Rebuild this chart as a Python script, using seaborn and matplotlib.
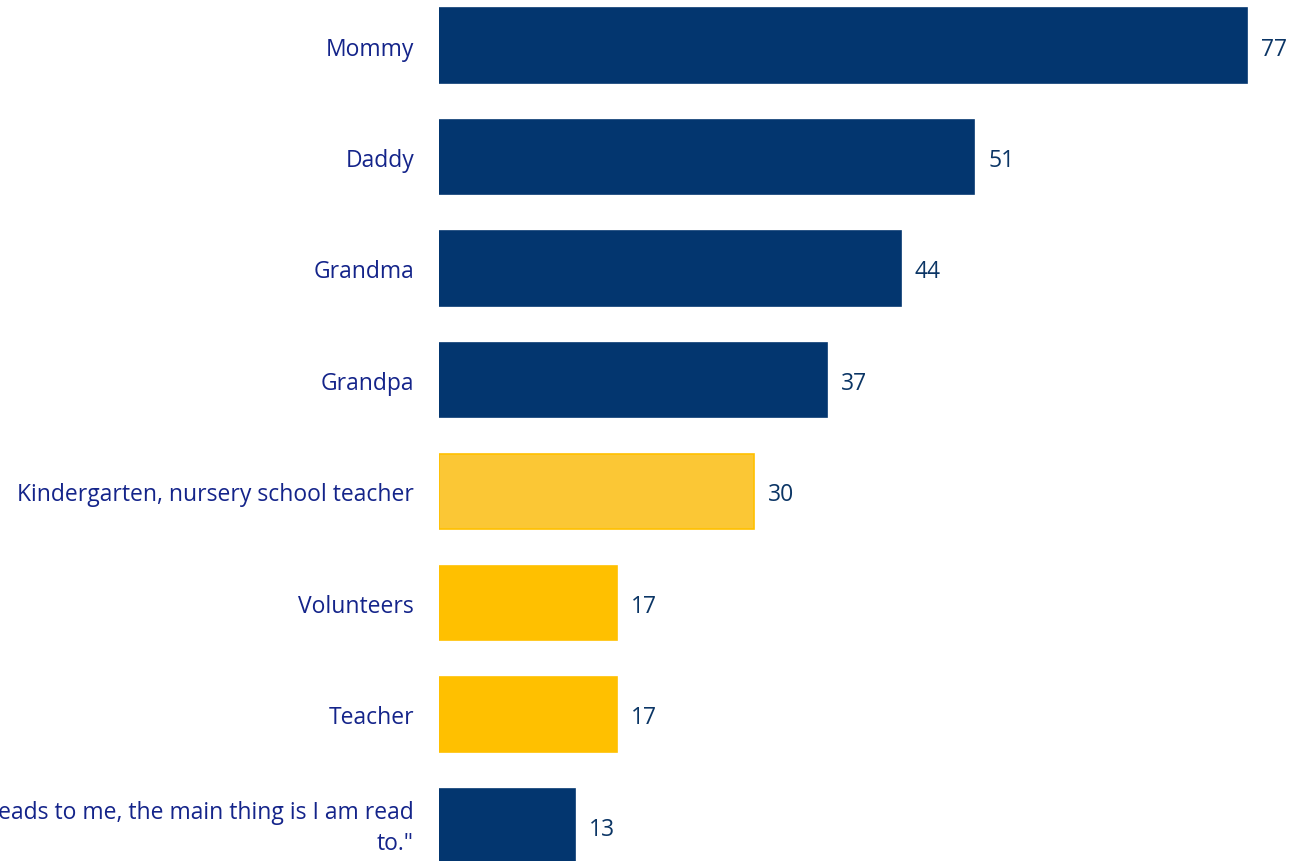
import matplotlib
matplotlib.use("Agg")
import matplotlib.pyplot as plt
import matplotlib.transforms as mtransforms
import seaborn as sns
import pandas as pd

categories = [
    "Mommy",
    "Daddy",
    "Grandma",
    "Grandpa",
    "Kindergarten, nursery school teacher",
    "Volunteers",
    "Teacher",
    "\"It doesn't matter who reads to me, the main thing is I am read\nto.\"",
]
values = [77, 51, 44, 37, 30, 17, 17, 13]
bar_colors = ["#03366F", "#03366F", "#03366F", "#03366F",
              "#FBC735", "#FFC000", "#FFC000", "#03366F"]
edge_colors = ["#03366F", "#03366F", "#03366F", "#03366F",
               "#FFC000", "#FFC000", "#FFC000", "#03366F"]

LABEL_COLOR = "#14248A"
VALUE_COLOR = "#0B3565"
FS = 16.5

sns.set_theme(style="white")
plt.rcParams["font.family"] = ["Open Sans", "DejaVu Sans"]

W, H = 1290, 862
fig = plt.figure(figsize=(W / 100, H / 100), dpi=100)
left = 439 / W
ax = fig.add_axes([left, 0, 1 - left, 1])

df = pd.DataFrame({"who": categories, "pct": values})
sns.barplot(data=df, x="pct", y="who", hue="who",
            palette=dict(zip(categories, bar_colors)),
            legend=False, width=0.67, ax=ax, orient="h", saturation=1)

for patch, ec in zip(ax.patches, edge_colors):
    patch.set_edgecolor(ec)
    patch.set_linewidth(1.2)

for cont in ax.containers:
    for t in ax.bar_label(cont, fmt="%d", padding=10, fontsize=FS, color=VALUE_COLOR):
        t.set_verticalalignment("center_baseline")

px_per_unit = (1247 - 439) / 77
ax.set_xlim(0, (W - 439) / px_per_unit)
ax.set_ylim((H - 46.5) / 111.5, -46.5 / 111.5)

ax.set_xlabel("")
ax.set_ylabel("")
ax.set_xticks([])
ax.tick_params(axis="y", length=0, pad=18, labelsize=FS, labelcolor=LABEL_COLOR)
for lbl in ax.get_yticklabels():
    lbl.set_linespacing(1.4)
# nudge the two-line label up so both lines sit around the bar centre
last = ax.get_yticklabels()[-1]
last.set_transform(last.get_transform() +
                   mtransforms.ScaledTranslation(0, 5 / 100, fig.dpi_scale_trans))
for s in ax.spines.values():
    s.set_visible(False)

fig.savefig("out.png", dpi=100)
